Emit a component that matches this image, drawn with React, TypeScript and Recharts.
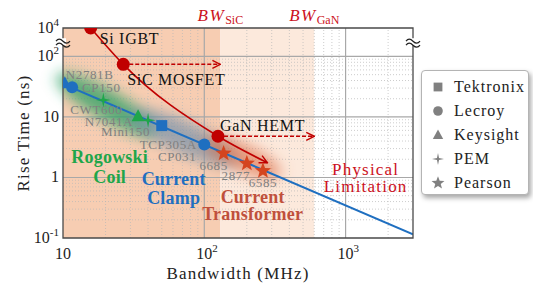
import React from 'react';
import {
  ComposedChart,
  XAxis,
  YAxis,
  Line,
  Scatter,
  ReferenceArea,
  ReferenceLine,
  ReferenceDot,
} from 'recharts';

// current probes: bandwidth (MHz) vs rise time (ns)
const probeNames = ['N2781B', 'CP150', 'CWT600', 'N7041A', 'Mini150', 'TCP305A', 'CP031', '6685', '2877', '6585'];
const probeBandwidth = [10.3, 11.6, 19.3, 34, 40, 50, 100, 137, 200, 260];
const probeRiseTime = [36, 31, 19, 10.3, 8.8, 7.2, 3.5, 2.5, 1.71, 1.29];
const probeMaker = ['Keysight', 'Lecroy', 'PEM', 'Keysight', 'PEM', 'Tektronix', 'Lecroy', 'Pearson', 'Pearson', 'Pearson'];
const probeFamily = ['clamp', 'clamp', 'rogowski', 'rogowski', 'rogowski', 'clamp', 'clamp', 'transformer', 'transformer', 'transformer'];

// power switches
const switchNames = ['Si IGBT', 'SiC MOSFET', 'GaN HEMT'];
const switchBandwidth = [15.7, 26.7, 125];
const switchRiseTime = [10000, 74, 4.8];
const trendEndBandwidth = 280;
const trendEndRiseTime = 1.75;

// physical limitation tr = 0.35 / BW
const limitBandwidth = [10, 3000];
const limitRiseTime = [35, 0.115];

const bwSiC = 130;
const bwGaN = 600;

const makers = ['Tektronix', 'Lecroy', 'Keysight', 'PEM', 'Pearson'];

const xTicks = [10, 100, 1000];
const xTickExp = ['', '2', '3'];
const xMinor = [20, 30, 40, 50, 60, 70, 80, 90, 200, 300, 400, 500, 600, 700, 800, 900, 2000];
const yTicks = [0.1, 1, 10, 100, 10000];
const yTickBase = ['10', '1', '10', '10', '10'];
const yTickExp = ['-1', '', '', '2', '4'];
const yMinor = [0.2, 0.3, 0.4, 0.5, 0.6, 0.7, 0.8, 0.9, 2, 3, 4, 5, 6, 7, 8, 9, 20, 30, 40, 50, 60, 70, 80, 90];
const yBreak = 1000;

// annotation anchors (data units)
const groupText = [['Rogowski', 'Coil'], ['Current', 'Clamp'], ['Current', 'Transformer'], ['Physical', 'Limitation']];
const groupBandwidth = [21.4, 60.7, 220, 1387];
const groupRiseTime = [1.75, 0.76, 0.383, 1.11];

const blobBandwidth = [20.4, 72.6, 187];
const blobRiseTime = [15.9, 4.54, 2.12];

// broken y axis: above 10^2 the decades are squeezed
const UPPER = 0.235;
const toAxis = (ns: number) => {
  const l = Math.log10(ns);
  return l <= 2 ? l : 2 + (l - 2) * UPPER;
};
const Y_MIN = toAxis(0.1);
const Y_MAX = toAxis(10000);

const FONT = 'Liberation Serif, Tinos, DejaVu Serif, Times New Roman, serif';
const RED = '#c00000';
const BLUE = '#1f6fc0';
const GREEN = '#1fa64a';
const STAR = '#d4451f';
const GRAY = '#808080';

const familyColor: Record<string, string> = { clamp: BLUE, rogowski: GREEN, transformer: STAR };
const groupColor = [GREEN, BLUE, '#c0503c', '#cc1122'];
const groupLineGap = [20, 19, 17, 17];

const probeData = probeNames.map((name, i) => ({
  name,
  bw: probeBandwidth[i],
  y: toAxis(probeRiseTime[i]),
  maker: probeMaker[i],
  family: probeFamily[i],
}));
const switchData = switchNames.map((name, i) => ({ name, bw: switchBandwidth[i], y: toAxis(switchRiseTime[i]) }));
const trendData = [...switchData, { name: '', bw: trendEndBandwidth, y: toAxis(trendEndRiseTime) }];
const limitData = limitBandwidth.map((bw, i) => ({ bw, y: toAxis(limitRiseTime[i]) }));
const sicArrow = [
  { bw: switchBandwidth[1], y: toAxis(switchRiseTime[1]) },
  { bw: bwSiC, y: toAxis(switchRiseTime[1]) },
];
const ganArrow = [
  { bw: switchBandwidth[2], y: toAxis(switchRiseTime[2]) },
  { bw: bwGaN, y: toAxis(switchRiseTime[2]) },
];

const probeLabelOffset: Record<string, [number, number, string]> = {
  N2781B: [1, -4, 'start'],
  CP150: [10, 5, 'start'],
  CWT600: [-7, 14, 'middle'],
  N7041A: [-5, 10, 'end'],
  Mini150: [2, 16, 'end'],
  TCP305A: [35, 23, 'end'],
  CP031: [-8, 16, 'end'],
  '6685': [-10, 17, 'middle'],
  '2877': [-11, 17, 'middle'],
  '6585': [0, 16, 'middle'],
};
const switchLabelOffset: Record<string, [number, number]> = {
  'Si IGBT': [9, 16],
  'SiC MOSFET': [4, 21],
  'GaN HEMT': [2, -5],
};

function starPath(cx: number, cy: number, n: number, R: number, r: number) {
  const pts: string[] = [];
  for (let k = 0; k < n * 2; k++) {
    const rad = k % 2 === 0 ? R : r;
    const a = -Math.PI / 2 + (k * Math.PI) / n;
    pts.push(`${(cx + rad * Math.cos(a)).toFixed(2)},${(cy + rad * Math.sin(a)).toFixed(2)}`);
  }
  return `M${pts.join('L')}Z`;
}

function MakerMark({ kind, cx, cy, color, scale = 1 }: { kind: string; cx: number; cy: number; color: string; scale?: number }) {
  const s = scale;
  switch (kind) {
    case 'Tektronix':
      return <rect x={cx - 5.5 * s} y={cy - 5.5 * s} width={11 * s} height={11 * s} fill={color} />;
    case 'Lecroy':
      return <circle cx={cx} cy={cy} r={6 * s} fill={color} />;
    case 'Keysight':
      return <path d={`M${cx},${cy - 7 * s}L${cx + 6.5 * s},${cy + 5 * s}L${cx - 6.5 * s},${cy + 5 * s}Z`} fill={color} />;
    case 'PEM':
      return <path d={starPath(cx, cy, 4, 7.5 * s, 1.8 * s)} fill={color} />;
    default:
      return <path d={starPath(cx, cy, 5, 8.5 * s, 3.6 * s)} fill={color} />;
  }
}

const XTick = (props: any) => {
  const { x, y, payload } = props;
  const i = xTicks.indexOf(payload.value);
  return (
    <text x={x - 8} y={y + 21} fontSize={16} fill="#222" style={{ fontFamily: FONT }}>
      10
      {xTickExp[i] && (
        <tspan dy={-7} fontSize={11}>
          {xTickExp[i]}
        </tspan>
      )}
    </text>
  );
};

const YTick = (props: any) => {
  const { x, y, payload } = props;
  const i = yTicks.findIndex((t) => Math.abs(toAxis(t) - payload.value) < 1e-6);
  if (i < 0) return null;
  return (
    <text x={x} y={y + 5} fontSize={16} fill="#222" textAnchor="end" style={{ fontFamily: FONT }}>
      {yTickBase[i]}
      {yTickExp[i] && (
        <tspan dy={-7} fontSize={11}>
          {yTickExp[i]}
        </tspan>
      )}
    </text>
  );
};

function Blob({ cx, cy, rx, ry, angle, color, id }: any) {
  return (
    <g>
      <defs>
        <filter id={id} x="-60%" y="-150%" width="220%" height="400%">
          <feGaussianBlur stdDeviation="7" />
        </filter>
      </defs>
      <ellipse
        cx={cx}
        cy={cy}
        rx={rx}
        ry={ry}
        fill={color}
        filter={`url(#${id})`}
        transform={`rotate(${angle} ${cx} ${cy})`}
      />
    </g>
  );
}

const blobStyle = [
  { rx: 58, ry: 15, angle: 30, color: 'rgba(40,160,100,0.75)' },
  { rx: 60, ry: 16, angle: 24, color: 'rgba(120,145,170,0.7)' },
  { rx: 42, ry: 14, angle: 25, color: 'rgba(220,105,65,0.6)' },
];

function BreakMark({ cx, cy }: any) {
  return (
    <g>
      <rect x={cx - 3} y={cy - 4} width={6} height={7} fill="#fff" />
      <path
        d={`M${cx - 7},${cy - 1} q3,-4 7,0 t7,0 M${cx - 7},${cy + 3} q3,-4 7,0 t7,0`}
        fill="none"
        stroke="#222"
        strokeWidth={1.2}
      />
    </g>
  );
}

function LegendBox() {
  return (
    <div
      style={{
        position: 'absolute',
        left: 421,
        top: 70,
        width: 108,
        height: 125,
        border: '1px solid #b4b4b4',
        borderRadius: 4,
        background: '#fff',
        boxShadow: '2px 3px 5px rgba(0,0,0,0.35)',
        paddingTop: 4,
        boxSizing: 'border-box',
        fontFamily: FONT,
      }}
    >
      {makers.map((m) => (
        <div key={m} style={{ height: 24, display: 'flex', alignItems: 'center' }}>
          <svg width={32} height={24} style={{ flex: 'none' }}>
            <MakerMark kind={m} cx={16} cy={12} color={GRAY} scale={0.8} />
          </svg>
          <span style={{ fontSize: 16, letterSpacing: 1, color: '#222' }}>{m}</span>
        </div>
      ))}
    </div>
  );
}

export default function App() {
  return (
    <div style={{ position: 'absolute', left: 0, top: 0, width: 533, height: 284, background: '#fff', fontFamily: FONT }}>
      <ComposedChart
        width={533}
        height={284}
        margin={{ top: 28, right: 120, bottom: 0, left: 0 }}
        style={{ fontFamily: FONT }}
      >
        <defs>
          <marker
            id="arrowOpen"
            viewBox="0 0 10 10"
            refX="9"
            refY="5"
            markerWidth="10"
            markerHeight="10"
            markerUnits="userSpaceOnUse"
            orient="auto"
          >
            <path d="M1,1 L9,5 L1,9" fill="none" stroke={RED} strokeWidth={1.4} />
          </marker>
        </defs>
        <XAxis
          type="number"
          dataKey="bw"
          scale="log"
          domain={[10, 3000]}
          allowDataOverflow
          ticks={xTicks}
          interval={0}
          tick={<XTick />}
          tickLine={false}
          axisLine={false}
          tickSize={0}
          tickMargin={0}
          height={46}
          label={{
            content: (p: any) => {
              const vb = p.viewBox;
              return (
                <text
                  x={vb.x + vb.width / 2}
                  y={vb.y + 41}
                  textAnchor="middle"
                  fontSize={17}
                  letterSpacing={1.2}
                  fill="#222"
                  style={{ fontFamily: FONT }}
                >
                  Bandwidth (MHz)
                </text>
              );
            },
          }}
        />
        <YAxis
          type="number"
          dataKey="y"
          domain={[Y_MIN, Y_MAX]}
          allowDataOverflow
          ticks={yTicks.map(toAxis)}
          interval={0}
          tick={<YTick />}
          tickLine={false}
          axisLine={false}
          tickSize={0}
          tickMargin={4}
          width={63}
          label={{
            content: (p: any) => {
              const vb = p.viewBox;
              const cx = vb.x + 29;
              const cy = vb.y + vb.height / 2;
              return (
                <text
                  x={cx}
                  y={cy}
                  textAnchor="middle"
                  fontSize={17}
                  letterSpacing={1.2}
                  fill="#222"
                  style={{ fontFamily: FONT }}
                  transform={`rotate(-90 ${cx} ${cy})`}
                >
                  Rise Time (ns)
                </text>
              );
            },
          }}
        />

        {/* bandwidth regions */}
        <ReferenceArea x1={10} x2={bwSiC} y1={Y_MIN} y2={Y_MAX} fill="#f7cdb2" fillOpacity={1} zIndex={1} />
        <ReferenceArea x1={bwSiC} x2={bwGaN} y1={Y_MIN} y2={Y_MAX} fill="#fce9dc" fillOpacity={1} zIndex={1} />

        {/* grid */}
        {xMinor.map((v) => (
          <ReferenceLine key={`xm${v}`} x={v} stroke="#b8b8b8" strokeOpacity={0.7} strokeDasharray="1 2" zIndex={2} />
        ))}
        {yMinor.map((v) => (
          <ReferenceLine key={`ym${v}`} y={toAxis(v)} stroke="#b8b8b8" strokeOpacity={0.7} strokeDasharray="1 2" zIndex={2} />
        ))}
        {xTicks.slice(1).map((v) => (
          <ReferenceLine key={`xM${v}`} x={v} stroke="#a8a8a8" strokeWidth={1.2} zIndex={2} />
        ))}
        {yTicks.slice(1, 4).map((v) => (
          <ReferenceLine key={`yM${v}`} y={toAxis(v)} stroke="#a8a8a8" strokeWidth={1.2} zIndex={2} />
        ))}

        {/* probe family clouds */}
        {blobBandwidth.map((bw, i) => (
          <ReferenceDot
            key={`blob${i}`}
            x={bw}
            y={toAxis(blobRiseTime[i])}
            ifOverflow="visible"
            zIndex={3}
            shape={(p: any) => <Blob cx={p.cx} cy={p.cy} id={`blur${i}`} {...blobStyle[i]} />}
          />
        ))}

        <Line
          data={limitData}
          dataKey="y"
          type="linear"
          stroke={BLUE}
          strokeWidth={2}
          dot={false}
          activeDot={false}
          isAnimationActive={false}
        />
        <Line
          data={trendData}
          dataKey="y"
          type="monotone"
          stroke={RED}
          strokeWidth={1.6}
          dot={false}
          activeDot={false}
          markerEnd="url(#arrowOpen)"
          isAnimationActive={false}
        />
        <Line
          data={sicArrow}
          dataKey="y"
          type="linear"
          stroke={RED}
          strokeWidth={1.5}
          strokeDasharray="4 2"
          dot={false}
          activeDot={false}
          markerEnd="url(#arrowOpen)"
          isAnimationActive={false}
        />
        <Line
          data={ganArrow}
          dataKey="y"
          type="linear"
          stroke={RED}
          strokeWidth={1.5}
          strokeDasharray="4 2"
          dot={false}
          activeDot={false}
          markerEnd="url(#arrowOpen)"
          isAnimationActive={false}
        />

        {/* plot frame */}
        <ReferenceArea
          x1={10}
          x2={3000}
          y1={Y_MIN}
          y2={Y_MAX}
          fill="none"
          stroke="#4a4a4a"
          strokeWidth={1.3}
          ifOverflow="visible"
          zIndex={450}
        />
        <ReferenceDot x={10} y={toAxis(yBreak)} ifOverflow="visible" zIndex={460} shape={(p: any) => <BreakMark cx={p.cx} cy={p.cy} />} />
        <ReferenceDot x={3000} y={toAxis(yBreak)} ifOverflow="visible" zIndex={460} shape={(p: any) => <BreakMark cx={p.cx} cy={p.cy} />} />

        {/* probe name labels */}
        <Scatter
          data={probeData}
          dataKey="y"
          isAnimationActive={false}
          zIndex={590}
          shape={(p: any) => {
            const [dx, dy, anchor] = probeLabelOffset[p.payload.name];
            return (
              <text
                x={p.cx + dx}
                y={p.cy + dy}
                textAnchor={anchor}
                fontSize={13}
                letterSpacing={0.6}
                fill={GRAY}
                style={{ fontFamily: FONT }}
              >
                {p.payload.name}
              </text>
            );
          }}
        />
        <Scatter
          data={probeData}
          dataKey="y"
          isAnimationActive={false}
          zIndex={600}
          shape={(p: any) => (
            <MakerMark kind={p.payload.maker} cx={p.cx} cy={p.cy} color={familyColor[p.payload.family]} />
          )}
        />
        <Scatter
          data={switchData}
          dataKey="y"
          isAnimationActive={false}
          zIndex={610}
          shape={(p: any) => {
            const [dx, dy] = switchLabelOffset[p.payload.name];
            return (
              <g>
                <circle cx={p.cx} cy={p.cy} r={6.5} fill={RED} />
                <text x={p.cx + dx} y={p.cy + dy} fontSize={16} letterSpacing={0.7} fill="#111" style={{ fontFamily: FONT }}>
                  {p.payload.name}
                </text>
              </g>
            );
          }}
        />

        {/* family labels */}
        {groupText.map((lines, i) => (
          <ReferenceDot
            key={`grp${i}`}
            x={groupBandwidth[i]}
            y={toAxis(groupRiseTime[i])}
            ifOverflow="visible"
            zIndex={700}
            shape={(p: any) => (
              <text
                x={p.cx}
                y={p.cy}
                textAnchor="middle"
                fontSize={i === 3 ? 17 : 18}
                fontWeight={i === 3 ? 'normal' : 'bold'}
                letterSpacing={i === 3 ? 1.2 : 0.2}
                fill={groupColor[i]}
                style={{ fontFamily: FONT }}
              >
                <tspan x={p.cx}>{lines[0]}</tspan>
                <tspan x={p.cx} dy={groupLineGap[i]}>
                  {lines[1]}
                </tspan>
              </text>
            )}
          />
        ))}

        {/* device bandwidth limits */}
        {[
          { bw: bwSiC, sub: 'SiC' },
          { bw: bwGaN, sub: 'GaN' },
        ].map((b) => (
          <ReferenceDot
            key={b.sub}
            x={b.bw}
            y={Y_MAX}
            ifOverflow="visible"
            zIndex={700}
            shape={(p: any) => (
              <text x={p.cx} y={p.cy - 7} textAnchor="middle" fill="#cc1122" style={{ fontFamily: FONT }}>
                <tspan fontSize={17} fontStyle="italic" letterSpacing={1.5}>
                  BW
                </tspan>
                <tspan fontSize={12} dy={3}>
                  {b.sub}
                </tspan>
              </text>
            )}
          />
        ))}
      </ComposedChart>
      <LegendBox />
    </div>
  );
}
